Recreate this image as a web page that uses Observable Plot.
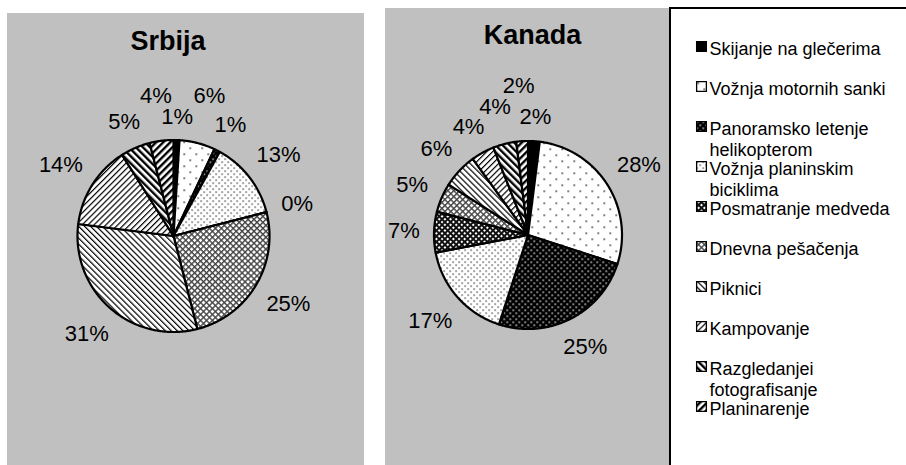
<!DOCTYPE html>
<html>
<head>
<meta charset="utf-8">
<script src="https://cdn.jsdelivr.net/npm/d3@7"></script>
<script src="https://cdn.jsdelivr.net/npm/@observablehq/plot@0.6"></script>
<style>
  body { margin: 0; background: #fff; }
  #root { position: relative; width: 906px; height: 465px; overflow: hidden; font-family: "Liberation Sans", Arial, sans-serif; }
  .panel { position: absolute; background: #c0c0c0; }
  #legend { position: absolute; left: 669px; top: 7px; width: 250px; height: 470px; border-left: 2px solid #000; border-top: 2px solid #000; background: #fff; }
  .panel svg, #legend svg { display: block; }
</style>
</head>
<body>
<div id="root">
  <svg width="0" height="0" style="position:absolute">
    <defs>
      <pattern id="pSparse" width="12" height="12" patternUnits="userSpaceOnUse">
        <rect width="12" height="12" fill="#fff"/>
        <rect x="2" y="2" width="1.4" height="1.4" fill="#000"/>
        <rect x="8" y="8" width="1.4" height="1.4" fill="#000"/>
      </pattern>
      <pattern id="pBlackDots" width="6" height="6" patternUnits="userSpaceOnUse">
        <rect width="6" height="6" fill="#000"/>
        <rect x="1" y="1" width="1.4" height="1.4" fill="#fff"/>
        <rect x="4" y="4" width="1.4" height="1.4" fill="#fff"/>
      </pattern>
      <pattern id="pDense" width="6" height="6" patternUnits="userSpaceOnUse">
        <rect width="6" height="6" fill="#fff"/>
        <rect x="1" y="1" width="1.2" height="1.2" fill="#000"/>
        <rect x="4" y="4" width="1.2" height="1.2" fill="#000"/>
      </pattern>
      <pattern id="pDarkCheck" width="4" height="4" patternUnits="userSpaceOnUse" patternTransform="rotate(45)">
        <rect width="4" height="4" fill="#fff"/>
        <rect width="4" height="2" fill="#111"/>
        <rect width="2" height="4" fill="#111"/>
      </pattern>
      <pattern id="pLightCheck" width="4.2" height="4.2" patternUnits="userSpaceOnUse" patternTransform="rotate(45)">
        <rect width="4.2" height="4.2" fill="#fff"/>
        <rect width="4.2" height="1.4" fill="#444"/>
        <rect width="1.4" height="4.2" fill="#444"/>
      </pattern>
      <pattern id="pBackThin" width="4.2" height="4.2" patternUnits="userSpaceOnUse" patternTransform="rotate(-45)">
        <rect width="4.2" height="4.2" fill="#fff"/>
        <rect width="1.2" height="4.2" fill="#000"/>
      </pattern>
      <pattern id="pFwdThin" width="4.2" height="4.2" patternUnits="userSpaceOnUse" patternTransform="rotate(45)">
        <rect width="4.2" height="4.2" fill="#fff"/>
        <rect width="1.2" height="4.2" fill="#000"/>
      </pattern>
      <pattern id="pBackThick" width="5" height="5" patternUnits="userSpaceOnUse" patternTransform="rotate(-45)">
        <rect width="5" height="5" fill="#fff"/>
        <rect width="2.4" height="5" fill="#000"/>
      </pattern>
      <pattern id="pFwdThick" width="5" height="5" patternUnits="userSpaceOnUse" patternTransform="rotate(45)">
        <rect width="5" height="5" fill="#fff"/>
        <rect width="2.4" height="5" fill="#000"/>
      </pattern>
    </defs>
  </svg>
  <div class="panel" id="srb" style="left:7px;top:13px;width:357px;height:452px"></div>
  <div class="panel" id="kan" style="left:385px;top:8px;width:284px;height:457px"></div>
  <div id="legend"></div>
</div>
<script>
// ---- data ----
const categories = [
  "Skijanje na glečerima",
  "Vožnja motornih sanki",
  "Panoramsko letenje helikopterom",
  "Vožnja planinskim biciklima",
  "Posmatranje medveda",
  "Dnevna pešačenja",
  "Piknici",
  "Kampovanje",
  "Razgledanjei fotografisanje",
  "Planinarenje"
];
const srbijaValues = [1, 6, 1, 13, 0, 25, 31, 14, 5, 4];
const kanadaValues = [2, 28, 25, 17, 7, 5, 6, 4, 4, 2];
const pieTitles = ["Srbija", "Kanada"];

// ---- styles ----
const fills = [
  "#000", "url(#pSparse)", "url(#pBlackDots)", "url(#pDense)", "url(#pDarkCheck)",
  "url(#pLightCheck)", "url(#pBackThin)", "url(#pFwdThin)", "url(#pBackThick)", "url(#pFwdThick)"
];
const FONT = "Liberation Sans, Arial, sans-serif";
const LABEL_SIZE = 22;
const LEGEND_SIZE = 18;
const LEGEND_MAX_W = 192;

function slicePoints(values) {
  const arcs = d3.pie().sort(null).value(d => d)(values);
  const pts = [];
  arcs.forEach((a, i) => {
    pts.push({i, x: 0, y: 0});
    const n = Math.max(2, Math.ceil((a.endAngle - a.startAngle) / (Math.PI / 360)));
    for (let k = 0; k <= n; k++) {
      const t = a.startAngle + (a.endAngle - a.startAngle) * k / n;
      pts.push({i, x: Math.sin(t), y: -Math.cos(t)});
    }
    pts.push({i, x: 0, y: 0});
  });
  return pts;
}

function labelLayout(values, r, fontSize) {
  const arcs = d3.pie().sort(null).value(d => d)(values);
  const total = d3.sum(values);
  const placed = [];
  const gap = 14, pad = 2;
  arcs.forEach((a) => {
    const mid = (a.startAngle + a.endAngle) / 2;
    const text = `${Math.round(a.value / total * 100)}%`;
    const w = d3.sum(Array.from(text), ch => ch === "%" ? 0.889 : 0.556) * fontSize;
    const h = 0.72 * fontSize + 2;
    const s = Math.sin(mid), c = -Math.cos(mid);
    let d = r + gap + Math.abs(s) * w / 2 + Math.abs(c) * h / 2;
    const hits = (px, py) => placed.some(p =>
      Math.abs(px - p.px) < (w + p.w) / 2 + pad && Math.abs(py - p.py) < (h + p.h) / 2 + pad);
    while (hits(d * s, d * c) && d < r * 2.2) d += 1;
    placed.push({px: d * s, py: d * c, w, h, x: d * s / r, y: d * c / r, text});
  });
  return placed;
}

// wrap legend text with real font metrics
const ctx = document.createElement("canvas").getContext("2d");
ctx.font = `${LEGEND_SIZE}px "Liberation Sans", Arial, sans-serif`;
function wrap(text) {
  const words = text.split(" ");
  const lines = [];
  let cur = "";
  for (const w of words) {
    const t = cur ? cur + " " + w : w;
    if (cur && ctx.measureText(t).width > LEGEND_MAX_W) { lines.push(cur); cur = w; }
    else cur = t;
  }
  lines.push(cur);
  return lines.join("\n");
}

function pieChart(title, values, L) {
  const {width, height, cx, cy, r, titleDx, titleDy} = L;
  return Plot.plot({
    width, height, margin: 0,
    style: {background: "transparent", fontFamily: FONT, color: "#000", overflow: "visible"},
    x: {domain: [-cx / r, (width - cx) / r], range: [0, width], axis: null},
    y: {domain: [-cy / r, (height - cy) / r], range: [0, height], axis: null},
    color: {type: "identity"},
    marks: [
      Plot.line(slicePoints(values), {
        x: "x", y: "y", z: "i", fill: d => fills[d.i],
        stroke: "#000", strokeWidth: 2.2, strokeLinejoin: "round"
      }),
      Plot.text(labelLayout(values, r, LABEL_SIZE), {
        x: "x", y: "y", text: "text", fontSize: LABEL_SIZE, fill: "#000",
        textAnchor: "middle", lineAnchor: "middle"
      }),
      Plot.text([title], {
        x: 0, frameAnchor: "top", dx: titleDx, dy: titleDy, text: d => d,
        fontSize: 27, fontWeight: "bold", fill: "#000", lineAnchor: "middle"
      })
    ]
  });
}

document.getElementById("srb").append(pieChart(pieTitles[0], srbijaValues,
  {width: 357, height: 452, cx: 166, cy: 222.5, r: 96, titleDx: -5.5, titleDy: 28}));
document.getElementById("kan").append(pieChart(pieTitles[1], kanadaValues,
  {width: 284, height: 457, cx: 142.5, cy: 226.5, r: 94, titleDx: 4.5, titleDy: 26.5}));

const legend = Plot.plot({
  width: 235, height: 456, margin: 0,
  style: {background: "transparent", fontFamily: FONT, color: "#000", overflow: "visible"},
  y: {type: "point", domain: categories, range: [12.5, 421.5], axis: null},
  color: {type: "identity"},
  marks: [
    Plot.dot(categories, {
      y: d => d, frameAnchor: "left", dx: 30, symbol: "square", r: 5.5,
      fill: (d, i) => fills[i], stroke: "#000", strokeWidth: 1.3
    }),
    Plot.text(categories, {
      y: d => d, frameAnchor: "left", dx: 38, text: d => wrap(d), textAnchor: "start",
      lineAnchor: "top", dy: -6.4, lineHeight: 1.17, fontSize: LEGEND_SIZE, fill: "#000"
    })
  ]
});
document.getElementById("legend").append(legend);
</script>
</body>
</html>
